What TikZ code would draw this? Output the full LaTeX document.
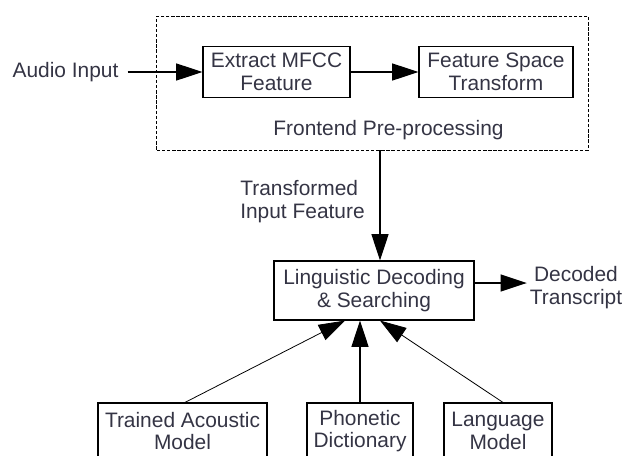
\documentclass[tikz,border=0pt]{standalone}
\usepackage{fontspec}
\setmainfont{Liberation Sans}
\usetikzlibrary{arrows.meta,calc}
\definecolor{txtgray}{RGB}{52,52,68}
\begin{document}
\begin{tikzpicture}[x=0.04cm,y=-0.04cm,
  font=\fontsize{23.8}{25.5}\selectfont,
  box/.style={draw,line width=1.3pt,text=txtgray,align=center,inner sep=0pt},
  txt/.style={text=txtgray,align=center},
  arr/.style={-{Triangle[length=1.05cm,width=0.68cm]},line width=1.5pt},
  thinarr/.style={arr,line width=0.9pt}]
\useasboundingbox (0,0) rectangle (625,456);
\clip (0,0) rectangle (625,456);
% frontend pre-processing
\node[draw,line width=1.1pt,dash pattern=on 3.8pt off 2pt,minimum width=17.24cm,minimum height=5.36cm] (front) at (372.5,83) {};
\node[txt] (fronttxt) at (388.5,130) {Frontend Pre-processing};
\node[txt] (audio) at (65.5,72) {Audio Input};
\node[box,minimum width=5.88cm,minimum height=2.04cm] (mfcc) at (276.5,72) {Extract MFCC\\Feature};
\node[box,minimum width=6.16cm,minimum height=2.04cm] (fst) at (496,72) {Feature Space\\Transform};
\draw[arr] ($(audio.east)+(6,0)$) -- (mfcc);
\draw[arr] (mfcc) -- (fst);
% decoding
\node[txt,align=left] (tif) at (302.5,201.5) {Transformed\\Input Feature};
\node[box,minimum width=8cm,minimum height=2.36cm] (ling) at (374,290.5) {Linguistic Decoding\\\& Searching};
\node[txt] (dec) at (576,287.5) {Decoded\\Transcript};
\draw[arr] ($(front.south)+(7.5,0)$) -- ($(ling.north)+(6,0)$);
\draw[arr] ($(ling.east)+(0,-7.5)$) coordinate (dstart) -- (dstart -| dec.west);
% models
\node[box,minimum width=6.76cm,minimum height=2.24cm] (train) at (182.5,431) {Trained Acoustic\\Model};
\node[box,minimum width=4.24cm,minimum height=2.24cm] (phon) at (360,431) {Phonetic\\Dictionary};
\node[box,minimum width=4.32cm,minimum height=2.24cm] (lang) at (498,431) {Language\\Model};
\draw[thinarr] ($(train.north)+(2.5,0)$) -- ($(ling.south)+(-29,0)$);
\draw[arr] (phon.north) -- (phon.north |- ling.south);
\draw[thinarr] ($(lang.north)+(5,0)$) -- ($(ling.south)+(6,0)$);
\end{tikzpicture}
\end{document}
